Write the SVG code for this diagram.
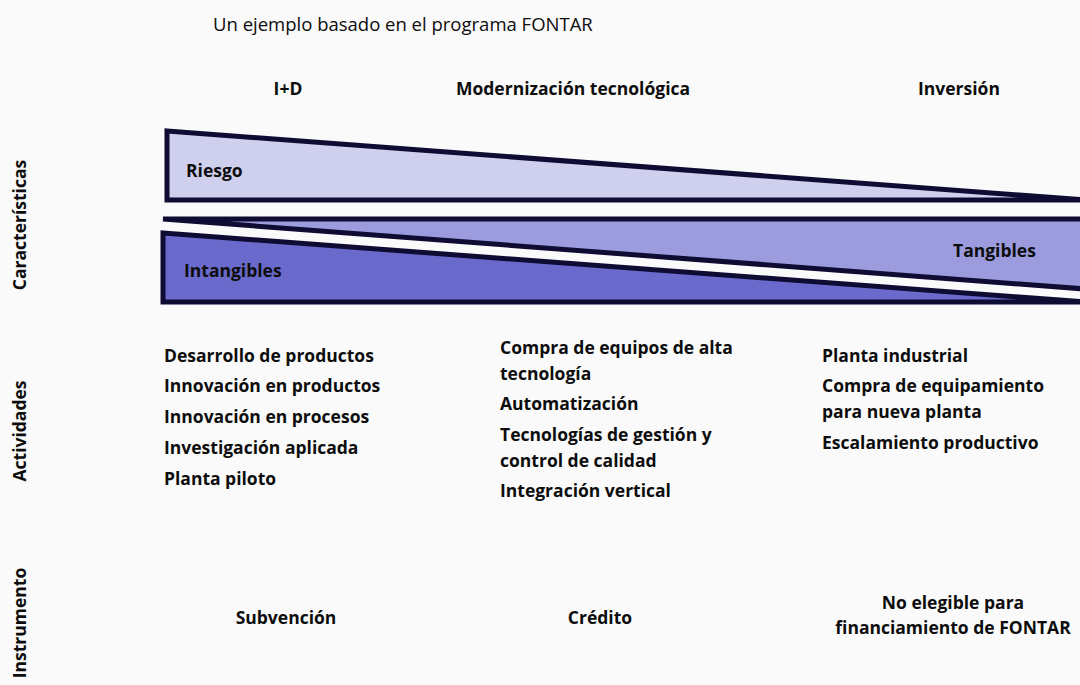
<svg xmlns="http://www.w3.org/2000/svg" width="1080" height="685" viewBox="0 0 1080 685">
<style>
text{font-family:"Open Sans","Liberation Sans",sans-serif;fill:#0d0d0d}
.b{font-weight:bold;font-size:17.5px}
.h{font-weight:bold;font-size:17.5px;text-anchor:middle}
.side{font-weight:bold;font-size:17.5px;text-anchor:middle}
.tri{stroke:#0e0c33;stroke-width:5;stroke-linejoin:miter}
</style>
<rect width="1080" height="685" fill="#fafafa"/>
<text x="213" y="31" font-size="18.5">Un ejemplo basado en el programa FONTAR</text>
<g id="headers">
<text class="h" x="288" y="95">I+D</text>
<text class="h" x="573" y="95">Modernización tecnológica</text>
<text class="h" x="959" y="95">Inversión</text>
</g>
<g id="side-labels">
<text class="side" transform="translate(26,225) rotate(-90)">Características</text>
<text class="side" transform="translate(26,431) rotate(-90)">Actividades</text>
<text class="side" transform="translate(26,623) rotate(-90)">Instrumento</text>
</g>
<g id="riesgo">
<polygon class="tri" fill="#cfcfee" points="167,131 1085,200 167,200"/>
<text class="b" x="186" y="177">Riesgo</text>
</g>
<g id="tangibles">
<polygon class="tri" fill="#9b9bde" points="163,219 1085,219 1085,289"/>
<text class="b" x="953" y="257">Tangibles</text>
</g>
<g id="intangibles">
<polygon class="tri" fill="#6a6acc" points="163,233 1085,302 163,302"/>
<text class="b" x="184" y="277">Intangibles</text>
</g>
<g id="actividades-id">
<text class="b" x="164" y="362">Desarrollo de productos</text>
<text class="b" x="164" y="392">Innovación en productos</text>
<text class="b" x="164" y="423">Innovación en procesos</text>
<text class="b" x="164" y="454">Investigación aplicada</text>
<text class="b" x="164" y="485">Planta piloto</text>
</g>
<g id="actividades-modernizacion">
<text class="b" x="500" y="354">Compra de equipos de alta</text>
<text class="b" x="500" y="380">tecnología</text>
<text class="b" x="500" y="410">Automatización</text>
<text class="b" x="500" y="441">Tecnologías de gestión y</text>
<text class="b" x="500" y="467">control de calidad</text>
<text class="b" x="500" y="497">Integración vertical</text>
</g>
<g id="actividades-inversion">
<text class="b" x="822" y="362">Planta industrial</text>
<text class="b" x="822" y="392">Compra de equipamiento</text>
<text class="b" x="822" y="418">para nueva planta</text>
<text class="b" x="822" y="449">Escalamiento productivo</text>
</g>
<g id="instrumentos">
<text class="h" x="286" y="624">Subvención</text>
<text class="h" x="600" y="624">Crédito</text>
<text class="h" x="953" y="609">No elegible para</text>
<text class="h" x="953" y="634">financiamiento de FONTAR</text>
</g>
</svg>
